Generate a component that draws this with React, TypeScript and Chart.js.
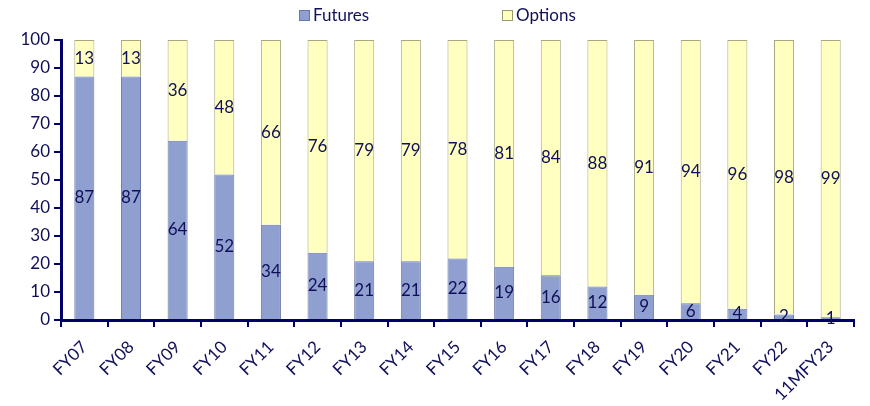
import React, { useEffect, useRef } from "react";
import { Chart, registerables } from "chart.js";

Chart.register(...registerables);

const categories = ["FY07", "FY08", "FY09", "FY10", "FY11", "FY12", "FY13", "FY14", "FY15", "FY16", "FY17", "FY18", "FY19", "FY20", "FY21", "FY22", "11MFY23"];
const futures = [87, 87, 64, 52, 34, 24, 21, 21, 22, 19, 16, 12, 9, 6, 4, 2, 1];
const options = [13, 13, 36, 48, 66, 76, 79, 79, 78, 81, 84, 88, 91, 94, 96, 98, 99];
const yTicks = [0, 10, 20, 30, 40, 50, 60, 70, 80, 90, 100];

const NAVY = "#10105a";
const AXIS = "#000066";
const FUT_COLOR = "#8fa0d0";
const OPT_COLOR = "#ffffc0";
const FONT = "Lato";
const SIZE = 17;

const dataLabelPlugin = {
  id: "dataLabels",
  afterDatasetsDraw(chart: any) {
    const ctx = chart.ctx;
    ctx.save();
    ctx.font = `${SIZE}px ${FONT}`;
    ctx.fillStyle = NAVY;
    ctx.textAlign = "center";
    ctx.textBaseline = "middle";
    chart.data.datasets.forEach((ds: any, di: number) => {
      const meta = chart.getDatasetMeta(di);
      meta.data.forEach((el: any, i: number) => {
        const v = ds.data[i];
        const y = (el.y + el.base) / 2;
        ctx.fillText(String(v), el.x, y);
      });
    });
    ctx.restore();
  },
};

const legendPlugin = {
  id: "customLegend",
  afterDraw(chart: any) {
    const ctx = chart.ctx;
    ctx.save();
    ctx.font = `${SIZE}px ${FONT}`;
    ctx.textBaseline = "middle";
    ctx.textAlign = "left";
    const items = [
      { label: "Futures", fill: FUT_COLOR, stroke: "#6a78a8", x: 299 },
      { label: "Options", fill: OPT_COLOR, stroke: "#9a9a70", x: 502 },
    ];
    items.forEach((it) => {
      ctx.fillStyle = it.fill;
      ctx.fillRect(it.x, 10, 11, 11);
      ctx.strokeStyle = it.stroke;
      ctx.lineWidth = 1;
      ctx.strokeRect(it.x + 0.5, 10.5, 10, 10);
      ctx.fillStyle = NAVY;
      ctx.fillText(it.label, it.x + 14, 15.5);
    });
    ctx.restore();
  },
};

export default function App() {
  const canvasRef = useRef<HTMLCanvasElement | null>(null);

  useEffect(() => {
    if (!canvasRef.current) return;
    const chart = new Chart(canvasRef.current, {
      type: "bar",
      data: {
        labels: categories,
        datasets: [
          {
            label: "Futures",
            data: futures,
            backgroundColor: FUT_COLOR,
            borderColor: "#6a78a8",
            borderWidth: 1,
            categoryPercentage: 1,
            barPercentage: 0.43,
          },
          {
            label: "Options",
            data: options,
            backgroundColor: OPT_COLOR,
            borderColor: "#a8a880",
            borderWidth: 1,
            categoryPercentage: 1,
            barPercentage: 0.43,
          },
        ],
      },
      options: {
        animation: false,
        responsive: true,
        maintainAspectRatio: false,
        layout: { padding: { top: 40, right: 16, left: 0, bottom: 0 } },
        plugins: {
          legend: { display: false },
          tooltip: { enabled: false },
        },
        scales: {
          x: {
            stacked: true,
            offset: true,
            afterFit: (scale: any) => {
              scale.height = 86;
            },
            grid: {
              offset: true,
              drawOnChartArea: false,
              drawTicks: true,
              tickLength: 7,
              color: AXIS,
              lineWidth: 2,
            },
            border: { display: true, color: AXIS, width: 3 },
            ticks: {
              color: NAVY,
              font: { family: FONT, size: SIZE },
              minRotation: 45,
              maxRotation: 45,
              autoSkip: false,
              padding: 10,
            },
          },
          y: {
            stacked: true,
            min: 0,
            max: 100,
            afterFit: (scale: any) => {
              scale.width = 61;
            },
            afterBuildTicks: (scale: any) => {
              scale.ticks = yTicks.map((v) => ({ value: v }));
            },
            grid: {
              drawOnChartArea: false,
              drawTicks: true,
              tickLength: 7,
              color: AXIS,
              lineWidth: 2,
            },
            border: { display: true, color: AXIS, width: 3 },
            ticks: {
              color: NAVY,
              font: { family: FONT, size: SIZE },
              padding: 4,
            },
          },
        },
      },
      plugins: [dataLabelPlugin, legendPlugin],
    });
    return () => chart.destroy();
  }, []);

  return (
    <div style={{ position: "fixed", left: 0, top: 0, width: 870, height: 406, background: "#fff" }}>
      <canvas ref={canvasRef} />
    </div>
  );
}
